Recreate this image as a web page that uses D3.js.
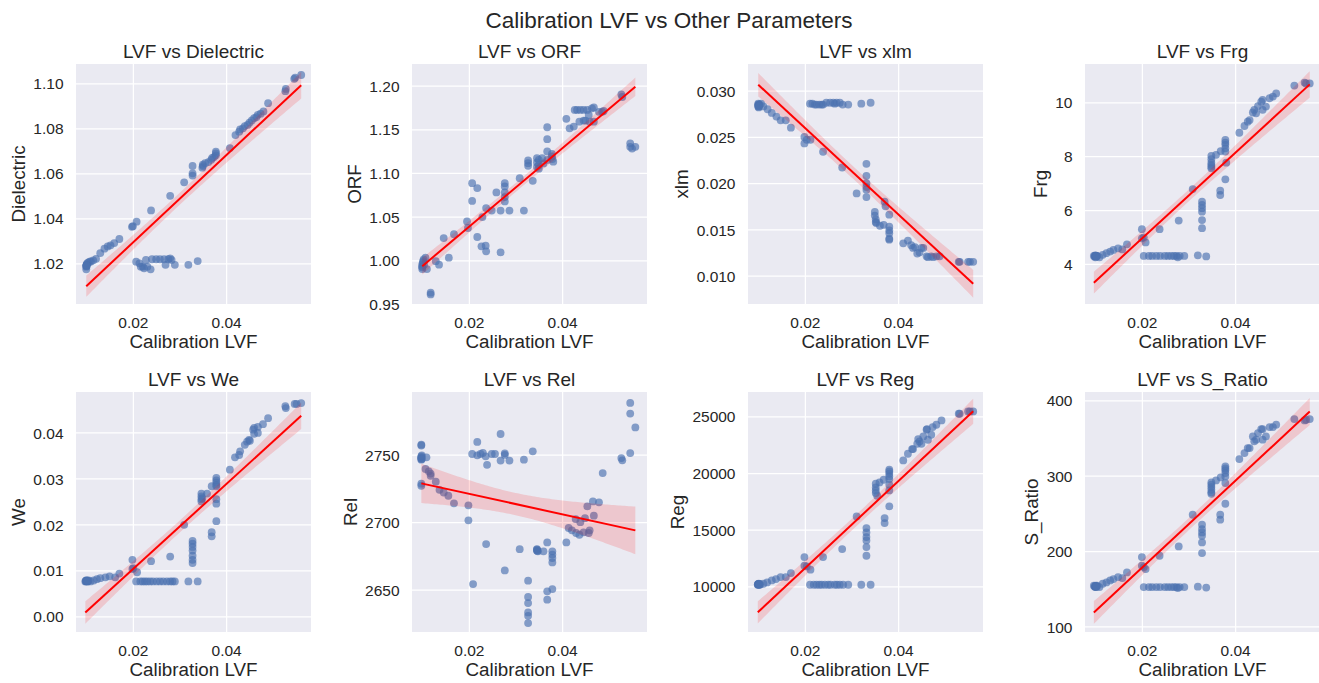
<!DOCTYPE html>
<html>
<head>
<meta charset="utf-8">
<script src="https://cdn.jsdelivr.net/npm/d3@7"></script>
<style>
  html, body { margin: 0; padding: 0; background: #ffffff; }
  svg { display: block; }
  text { font-family: "Liberation Sans", Arial, "Helvetica Neue", sans-serif; fill: #262626; }
</style>
</head>
<body>
<svg id="chart" width="1319" height="683"></svg>
<script>
// ---------------- DATA ----------------
const suptitle = "Calibration LVF vs Other Parameters";
const xLabel = "Calibration LVF";
const parameters = ["Dielectric", "ORF", "xlm", "Frg", "We", "Rel", "Reg", "S_Ratio"];
const xTicks = [0.02, 0.04];
const xDomain = [0.0078, 0.0582];

// y tick values per parameter
const yTicksDielectric = [1.02, 1.04, 1.06, 1.08, 1.10];
const yTicksORF = [0.95, 1.00, 1.05, 1.10, 1.15, 1.20];
const yTicksXlm = [0.010, 0.015, 0.020, 0.025, 0.030];
const yTicksFrg = [4, 6, 8, 10];
const yTicksWe = [0.00, 0.01, 0.02, 0.03, 0.04];
const yTicksRel = [2650, 2700, 2750];
const yTicksReg = [10000, 15000, 20000, 25000];
const yTicksSRatio = [100, 200, 300, 400];

// y axis ranges
const yRangeDielectric = [1.0019, 1.1086];
const yRangeORF = [0.9500, 1.2248];
const yRangeXlm = [0.00694, 0.03289];
const yRangeFrg = [2.515, 11.42];
const yRangeWe = [-0.0034, 0.0488];
const yRangeRel = [2618.7, 2796.4];
const yRangeReg = [5976, 27153];
const yRangeSRatio = [92.6, 411.1];

// scatter points [Calibration LVF, value]  (the dark clusters hold overlapping repeats)
const dielectric = [
  [0.0100,1.0173],[0.0100,1.0185],[0.0101,1.0195],[0.0102,1.0200],[0.0104,1.0203],[0.0107,1.0207],[0.0110,1.0208],[0.0115,1.0213],[0.0121,1.0220],[0.0130,1.0245],[0.0139,1.0265],[0.0146,1.0275],[0.0152,1.0280],[0.0160,1.0290],[0.0171,1.0308],
  [0.0100,1.0190],[0.0100,1.0190],[0.0101,1.0188],[0.0101,1.0192],
  [0.0198,1.0362],[0.0200,1.0365],[0.0208,1.0385],[0.0239,1.0435],[0.0280,1.0500],[0.0310,1.0560],
  [0.0328,1.0590],[0.0328,1.0600],[0.0328,1.0633],
  [0.0349,1.0625],[0.0350,1.0632],[0.0350,1.0638],[0.0355,1.0645],[0.0362,1.0650],[0.0368,1.0660],[0.0370,1.0668],[0.0374,1.0672],[0.0378,1.0680],[0.0378,1.0688],[0.0378,1.0696],
  [0.0408,1.0712],[0.0420,1.0770],[0.0428,1.0785],[0.0430,1.0795],[0.0436,1.0800],[0.0440,1.0810],[0.0446,1.0815],[0.0450,1.0825],[0.0455,1.0835],[0.0460,1.0845],[0.0465,1.0850],[0.0468,1.0860],[0.0474,1.0865],[0.0480,1.0875],[0.0490,1.0912],
  [0.0527,1.0965],[0.0528,1.0975],[0.0546,1.1020],[0.0548,1.1025],[0.0561,1.1037],
  [0.0207,1.0207],[0.0214,1.0200],[0.0217,1.0185],[0.0221,1.0185],[0.0224,1.0178],[0.0228,1.0215],[0.0231,1.0185],[0.0238,1.0173],[0.0241,1.0218],[0.0250,1.0218],[0.0258,1.0218],[0.0267,1.0218],[0.0270,1.0193],[0.0276,1.0218],[0.0280,1.0222],[0.0283,1.0215],[0.0290,1.0193],[0.0319,1.0193],[0.0339,1.0210]
];
const orf = [
  [0.0100,0.990],[0.0100,0.993],[0.0102,0.999],[0.0103,1.001],[0.0107,1.003],[0.0110,0.990],[0.0104,0.995],
  [0.0100,0.995],[0.0101,0.997],[0.0100,0.992],
  [0.0118,0.963],[0.0118,0.961],
  [0.0129,0.999],[0.0136,0.995],[0.0146,1.0255],[0.0157,1.003],[0.0168,1.030],
  [0.0196,1.0446],[0.0198,1.0370],
  [0.0207,1.0884],[0.0207,1.068],[0.0218,1.0827],
  [0.0218,1.0267],[0.0227,1.016],[0.0236,1.0168],[0.0237,1.0103],[0.0229,1.0495],[0.0237,1.0598],[0.0249,1.057],[0.0259,1.0777],[0.0268,1.057],[0.0268,1.009],
  [0.0277,1.0884],[0.0277,1.0846],[0.0277,1.0777],[0.0277,1.0724],[0.0277,1.0674],[0.0287,1.057],[0.0309,1.094],[0.0318,1.057],[0.0337,1.091],
  [0.0327,1.1143],[0.0327,1.1112],[0.0327,1.1082],
  [0.0346,1.117],[0.0346,1.112],[0.0346,1.107],[0.0350,1.115],[0.0350,1.109],[0.0350,1.105],[0.0357,1.117],[0.0360,1.111],
  [0.0368,1.1524],[0.0368,1.1387],[0.0368,1.1246],[0.0368,1.115],
  [0.0378,1.119],[0.0379,1.116],[0.0381,1.113],[0.0378,1.122],
  [0.0409,1.162],[0.0416,1.1512],[0.0425,1.1531],[0.0427,1.1722],[0.0432,1.1722],[0.0439,1.1722],[0.0446,1.1722],[0.0454,1.1722],[0.0464,1.174],[0.0468,1.175],[0.0437,1.1588],[0.0446,1.160],[0.0450,1.160],[0.0457,1.1665],[0.0459,1.1588],[0.0468,1.1588],[0.0479,1.170],[0.0486,1.170],[0.0489,1.171],
  [0.0527,1.190],[0.0529,1.187],
  [0.0546,1.134],[0.0546,1.130],[0.0550,1.128],[0.0557,1.130]
];
const xlm = [
  [0.0100,0.0286],[0.0100,0.0283],[0.0101,0.0282],[0.0103,0.0285],[0.0106,0.0286],[0.0111,0.0283],[0.0120,0.0280],[0.0129,0.0276],[0.0139,0.0272],[0.0148,0.0268],[0.0159,0.0268],[0.0170,0.0260],
  [0.0100,0.0285],[0.0100,0.0284],[0.0101,0.0285],[0.0101,0.0283],[0.0102,0.0284],
  [0.0199,0.0250],[0.0199,0.0243],[0.0204,0.0247],[0.0212,0.0247],
  [0.0239,0.0234],[0.0280,0.0217],[0.0311,0.0189],
  [0.0332,0.0221],[0.0332,0.0208],[0.0332,0.0200],[0.0332,0.0196],[0.0332,0.0193],[0.0332,0.0185],
  [0.0350,0.0169],[0.0350,0.0165],[0.0352,0.0161],[0.0352,0.0158],[0.0353,0.0157],[0.0361,0.0154],
  [0.0371,0.0180],[0.0373,0.0175],[0.0369,0.0155],
  [0.0381,0.0166],[0.0381,0.0153],[0.0381,0.0149],[0.0381,0.0146],[0.0381,0.0140],[0.0381,0.0139],
  [0.0411,0.0135],[0.0421,0.0138],[0.0428,0.0133],[0.0432,0.0130],[0.0436,0.0131],[0.0441,0.0124],[0.0446,0.0125],[0.0450,0.0130],[0.0454,0.0130],[0.0461,0.0121],[0.0464,0.0120],[0.0471,0.0121],[0.0475,0.0120],[0.0482,0.0121],[0.0489,0.0121],
  [0.0530,0.0115],[0.0532,0.0115],[0.0550,0.0115],[0.0554,0.0115],[0.0561,0.0115],
  [0.0211,0.0286],[0.0216,0.0286],[0.0221,0.0285],[0.0225,0.0285],[0.0231,0.0285],[0.0236,0.0285],[0.0239,0.0285],[0.0246,0.0287],[0.0254,0.0287],[0.0261,0.0287],[0.0264,0.0286],[0.0268,0.0287],[0.0275,0.0287],[0.0281,0.0285],[0.0293,0.0285],[0.0321,0.0286],[0.0341,0.0287]
];
const frg = [
  [0.0097,4.30],[0.0100,4.25],[0.0104,4.30],[0.0100,4.32],[0.0102,4.28],[0.0109,4.25],[0.0116,4.34],[0.0124,4.40],[0.0132,4.46],[0.0139,4.52],[0.0149,4.58],[0.0158,4.54],[0.0168,4.73],
  [0.0099,4.29],[0.0100,4.30],[0.0101,4.31],[0.0101,4.27],[0.0102,4.30],[0.0103,4.29],
  [0.0200,4.95],[0.0200,5.29],[0.0204,4.99],[0.0208,4.80],
  [0.0238,5.29],[0.0279,5.61],[0.0309,6.78],
  [0.0329,6.31],[0.0329,6.19],[0.0329,6.07],[0.0329,5.94],[0.0329,5.63],[0.0329,5.33],
  [0.0349,8.01],[0.0349,7.89],[0.0349,7.76],[0.0349,7.68],[0.0349,7.61],[0.0349,7.55],
  [0.0359,8.05],[0.0369,8.19],[0.0368,6.72],[0.0368,6.56],
  [0.0379,8.60],[0.0379,8.50],[0.0379,8.42],[0.0379,8.29],[0.0379,8.17],[0.0379,7.14],[0.0381,7.76],
  [0.0409,8.87],[0.0420,9.12],[0.0427,9.28],[0.0431,9.34],[0.0438,9.62],[0.0441,9.72],[0.0445,9.59],[0.0449,9.86],[0.0456,10.02],[0.0459,10.09],[0.0459,9.72],[0.0466,9.84],[0.0474,10.15],[0.0481,10.21],[0.0488,10.33],
  [0.0527,10.62],[0.0549,10.73],[0.0552,10.70],[0.0560,10.70],
  [0.0204,4.30],[0.0215,4.30],[0.0222,4.30],[0.0231,4.30],[0.0239,4.30],[0.0249,4.30],[0.0256,4.30],[0.0263,4.30],[0.0269,4.30],[0.0274,4.30],[0.0277,4.25],[0.0281,4.30],[0.0291,4.30],[0.0320,4.32],[0.0338,4.28]
];
const we = [
  [0.0098,0.0076],[0.0100,0.0078],[0.0103,0.0076],[0.0105,0.0078],[0.0109,0.0076],[0.0116,0.0078],[0.0123,0.0081],[0.0130,0.0083],[0.0141,0.0085],[0.0150,0.0087],[0.0162,0.0085],[0.0171,0.0093],
  [0.0099,0.0077],[0.0100,0.0076],[0.0101,0.0077],[0.0101,0.0078],[0.0102,0.0076],[0.0103,0.0077],
  [0.0199,0.0123],[0.0199,0.0103],[0.0201,0.0105],[0.0209,0.0096],
  [0.0239,0.0120],[0.0280,0.0130],[0.0310,0.0199],
  [0.0328,0.0164],[0.0328,0.0158],[0.0328,0.0151],[0.0328,0.0143],[0.0328,0.0132],[0.0328,0.0123],[0.0328,0.0116],
  [0.0347,0.0267],[0.0347,0.0261],[0.0347,0.0255],[0.0347,0.0250],[0.0349,0.0257],[0.0359,0.0267],
  [0.0369,0.0283],[0.0369,0.0183],[0.0369,0.0174],
  [0.0379,0.0301],[0.0379,0.0296],[0.0379,0.0291],[0.0379,0.0286],[0.0379,0.0283],[0.0379,0.0255],[0.0379,0.0245],[0.0379,0.0207],
  [0.0408,0.0319],[0.0419,0.0346],[0.0428,0.0351],[0.0430,0.0359],[0.0440,0.0373],[0.0445,0.0380],[0.0449,0.0384],[0.0451,0.0382],[0.0458,0.0406],[0.0460,0.0410],[0.0460,0.0397],[0.0468,0.0399],[0.0468,0.0412],[0.0479,0.0418],[0.0490,0.0431],
  [0.0527,0.0457],[0.0528,0.0453],[0.0547,0.0462],[0.0551,0.0462],[0.0561,0.0464],
  [0.0207,0.0076],[0.0216,0.0076],[0.0221,0.0076],[0.0226,0.0076],[0.0231,0.0076],[0.0237,0.0076],[0.0243,0.0076],[0.0251,0.0076],[0.0258,0.0076],[0.0265,0.0076],[0.0273,0.0076],[0.0280,0.0076],[0.0285,0.0076],[0.0290,0.0076],[0.0319,0.0076],[0.0339,0.0076]
];
const rel = [
  [0.0098,2757.4],[0.0098,2748.8],[0.0098,2747.5],[0.0098,2746.3],[0.0098,2727.0],[0.0098,2728.5],[0.0109,2748.0],[0.0107,2739.4],[0.0114,2737.7],[0.0118,2736.0],[0.0118,2734.4],[0.0129,2730.0],[0.0137,2724.0],[0.0146,2722.0],[0.0156,2719.6],[0.0168,2714.0],[0.0199,2712.5],[0.0199,2701.4],
  [0.0098,2748.0],[0.0098,2747.0],[0.0099,2749.5],[0.0099,2746.8],[0.0098,2756.8],
  [0.0209,2654.2],[0.0207,2750.5],[0.0218,2759.4],[0.0218,2749.5],[0.0225,2750.5],[0.0230,2751.3],[0.0236,2748.8],[0.0239,2742.5],[0.0237,2683.8],[0.0249,2750.5],[0.0256,2750.5],[0.0268,2765.3],[0.0268,2745.6],[0.0277,2751.0],[0.0277,2749.8],[0.0277,2664.3],[0.0287,2745.6],[0.0309,2680.0],[0.0318,2746.3],[0.0337,2752.5],
  [0.0327,2656.7],[0.0327,2644.6],[0.0327,2640.1],[0.0327,2633.2],[0.0327,2630.7],[0.0327,2625.3],
  [0.0346,2680.1],[0.0346,2679.1],[0.0348,2678.4],[0.0346,2679.6],[0.0347,2678.8],[0.0360,2678.4],[0.0368,2685.0],[0.0368,2648.8],[0.0368,2642.6],
  [0.0379,2678.4],[0.0379,2676.0],[0.0379,2673.5],[0.0379,2670.2],[0.0379,2650.5],
  [0.0409,2685.0],[0.0414,2695.7],[0.0421,2694.0],[0.0429,2702.3],[0.0430,2692.0],[0.0437,2690.7],[0.0439,2700.0],[0.0446,2692.5],[0.0449,2703.0],[0.0454,2711.7],[0.0457,2692.0],[0.0459,2694.0],[0.0466,2715.4],[0.0468,2704.8],[0.0479,2714.7],[0.0487,2736.4],
  [0.0527,2747.5],[0.0529,2745.8],[0.0546,2751.2],[0.0546,2780.4],[0.0546,2788.3],[0.0557,2770.2]
];
const reg = [
  [0.0099,10147],[0.0101,10235],[0.0104,10147],[0.0100,10200],[0.0111,10235],[0.0119,10353],[0.0129,10529],[0.0138,10647],[0.0148,10824],[0.0159,10824],[0.0170,11176],
  [0.0099,10180],[0.0100,10160],[0.0101,10210],[0.0101,10150],[0.0102,10190],[0.0103,10170],
  [0.0199,12588],[0.0199,11824],[0.0204,11765],[0.0212,11471],
  [0.0239,12588],[0.0280,13294],[0.0311,16176],
  [0.0332,15147],[0.0332,14765],[0.0332,14353],[0.0332,14059],[0.0332,13471],[0.0332,12706],
  [0.0352,19059],[0.0352,18735],[0.0352,18471],[0.0352,18235],[0.0355,18000],[0.0360,19176],[0.0369,19412],
  [0.0371,16029],[0.0371,15588],
  [0.0381,20294],[0.0381,20147],[0.0381,19941],[0.0381,19706],[0.0381,19471],[0.0381,18970],[0.0381,18471],[0.0381,17059],
  [0.0411,21118],[0.0421,21706],[0.0430,22118],[0.0432,22118],[0.0441,22588],[0.0443,23000],[0.0446,22794],[0.0450,22588],[0.0454,23235],[0.0461,23824],[0.0462,23882],[0.0464,22941],[0.0471,23382],[0.0474,24059],[0.0482,24265],[0.0493,24647],
  [0.0530,25235],[0.0532,25235],[0.0550,25441],[0.0554,25441],[0.0561,25441],
  [0.0211,10147],[0.0219,10147],[0.0225,10147],[0.0231,10147],[0.0236,10147],[0.0243,10147],[0.0250,10147],[0.0255,10147],[0.0264,10147],[0.0269,10147],[0.0275,10147],[0.0282,10147],[0.0293,10147],[0.0321,10147],[0.0341,10147]
];
const sRatio = [
  [0.0097,154.0],[0.0100,152.2],[0.0104,154.0],[0.0101,153.0],[0.0109,152.2],[0.0116,156.6],[0.0124,158.4],[0.0132,161.0],[0.0139,162.8],[0.0149,165.5],[0.0158,164.2],[0.0168,171.7],
  [0.0099,153.0],[0.0100,153.6],[0.0101,152.6],[0.0101,154.2],[0.0102,153.2],[0.0103,152.8],
  [0.0200,180.5],[0.0200,192.0],[0.0204,178.8],[0.0208,176.1],
  [0.0238,193.8],[0.0279,206.2],[0.0309,248.2],
  [0.0329,235.0],[0.0329,229.2],[0.0329,224.8],[0.0329,220.3],[0.0329,211.5],[0.0329,197.3],
  [0.0349,291.1],[0.0349,288.0],[0.0349,284.9],[0.0349,281.4],[0.0349,277.9],[0.0349,276.1],
  [0.0359,293.8],[0.0369,297.8],[0.0368,248.2],[0.0368,241.6],
  [0.0379,312.4],[0.0379,309.7],[0.0379,307.1],[0.0379,303.5],[0.0379,299.1],[0.0379,290.3],[0.0379,262.8],
  [0.0409,322.1],[0.0420,330.1],[0.0427,336.7],[0.0431,336.7],[0.0438,352.2],[0.0441,345.6],[0.0445,347.8],[0.0449,356.6],[0.0456,361.9],[0.0459,361.9],[0.0459,347.8],[0.0466,352.2],[0.0474,364.6],[0.0481,364.6],[0.0488,367.7],
  [0.0527,375.2],[0.0549,373.4],[0.0552,374.3],[0.0560,375.2],
  [0.0204,152.2],[0.0215,152.2],[0.0222,152.2],[0.0231,152.2],[0.0239,152.2],[0.0249,152.2],[0.0256,152.2],[0.0263,152.2],[0.0269,152.2],[0.0274,152.2],[0.0277,151.0],[0.0281,152.2],[0.0291,152.2],[0.0320,152.8],[0.0338,151.5]
];

const seriesPoints = [dielectric, orf, xlm, frg, we, rel, reg, sRatio];
const seriesTicks = [yTicksDielectric, yTicksORF, yTicksXlm, yTicksFrg, yTicksWe, yTicksRel, yTicksReg, yTicksSRatio];
const seriesRanges = [yRangeDielectric, yRangeORF, yRangeXlm, yRangeFrg, yRangeWe, yRangeRel, yRangeReg, yRangeSRatio];
const seriesFormats = [".2f", ".2f", ".3f", "d", ".2f", "d", "d", "d"];

// ---------------- LAYOUT / STYLE ----------------
const colLeft = [76, 412, 748, 1085];
const rowTop = [64, 392];
const PW = 235, PH = 240;
const BG = "#EAEAF2", DOT = "#4C72B0";
const TICK_FS = 15.5, LABEL_FS = 18.8, TITLE_FS = 19, SUP_FS = 22.5;

const svg = d3.select("#chart");

function label(parent, x, y, s, size, anchor, rot) {
  return parent.append("text")
    .attr("transform", `translate(${x},${y})` + (rot ? ` rotate(${rot})` : ""))
    .attr("text-anchor", anchor)
    .style("font-size", size + "px")
    .text(s);
}

label(svg, 669, 27.5, suptitle, SUP_FS, "middle");

function fitLine(pts) {
  const n = pts.length;
  const mx = d3.mean(pts, d => d[0]), my = d3.mean(pts, d => d[1]);
  let sxx = 0, sxy = 0;
  pts.forEach(([x, y]) => { sxx += (x - mx) ** 2; sxy += (x - mx) * (y - my); });
  const b = sxy / sxx, a = my - b * mx;
  let sse = 0;
  pts.forEach(([x, y]) => { sse += (y - a - b * x) ** 2; });
  const s = Math.sqrt(sse / (n - 2));
  const t = 1.99;
  return { predict: x => a + b * x, half: x => t * s * Math.sqrt(1 / n + (x - mx) ** 2 / sxx) };
}

parameters.forEach((name, i) => {
  const pts = seriesPoints[i];
  const left = colLeft[i % 4], top = rowTop[Math.floor(i / 4)];
  const g = svg.append("g").attr("transform", `translate(${left},${top})`);

  const x = d3.scaleLinear().domain(xDomain).range([0, PW]);
  const y = d3.scaleLinear().domain(seriesRanges[i]).range([PH, 0]);

  g.append("rect").attr("width", PW).attr("height", PH).attr("fill", BG);

  // grid + tick labels
  const gx = g.append("g").attr("transform", `translate(0,${PH})`)
    .call(d3.axisBottom(x).tickValues(xTicks).tickSize(-PH).tickSizeOuter(0).tickPadding(13.3).tickFormat(d3.format(".2f")));
  const gy = g.append("g")
    .call(d3.axisLeft(y).tickValues(seriesTicks[i]).tickSize(-PW).tickSizeOuter(0).tickPadding(12.5).tickFormat(d3.format(seriesFormats[i])));
  [gx, gy].forEach(ax => {
    ax.select(".domain").remove();
    ax.selectAll(".tick line").attr("stroke", "#ffffff").attr("stroke-width", 1.25);
    ax.selectAll(".tick text")
      .attr("fill", "#262626")
      .style("font-size", TICK_FS + "px")
      .style("font-family", '"Liberation Sans", Arial, sans-serif');
  });
  gx.selectAll(".tick text").attr("dy", "0.71em");
  gy.selectAll(".tick text").attr("dy", "0.36em");

  // scatter
  g.append("g").selectAll("circle").data(pts).join("circle")
    .attr("cx", d => x(d[0])).attr("cy", d => y(d[1]))
    .attr("r", 3.9).attr("fill", DOT).attr("fill-opacity", 0.66);

  // regression + 95% CI
  const f = fitLine(pts);
  const [x0, x1] = d3.extent(pts, d => d[0]);
  const xs = d3.range(0, 101).map(k => x0 + (x1 - x0) * k / 100);
  g.append("path")
    .attr("d", d3.area().x(d => x(d)).y0(d => y(f.predict(d) - f.half(d))).y1(d => y(f.predict(d) + f.half(d)))(xs))
    .attr("fill", "#ff0000").attr("fill-opacity", 0.15);
  g.append("path")
    .attr("d", d3.line().x(d => x(d)).y(d => y(f.predict(d)))([x0, x1]))
    .attr("stroke", "#ff0000").attr("stroke-width", 2).attr("fill", "none");

  // titles & labels
  label(g, PW / 2, -6, "LVF vs " + name, TITLE_FS, "middle");
  label(g, PW / 2, PH + 44.4, xLabel, LABEL_FS, "middle");
  let maxW = 0;
  gy.selectAll(".tick text").each(function () { maxW = Math.max(maxW, this.getBBox().width); });
  label(g, -12.5 - maxW - 8, PH / 2, name, LABEL_FS, "middle", -90);
});
</script>
</body>
</html>
